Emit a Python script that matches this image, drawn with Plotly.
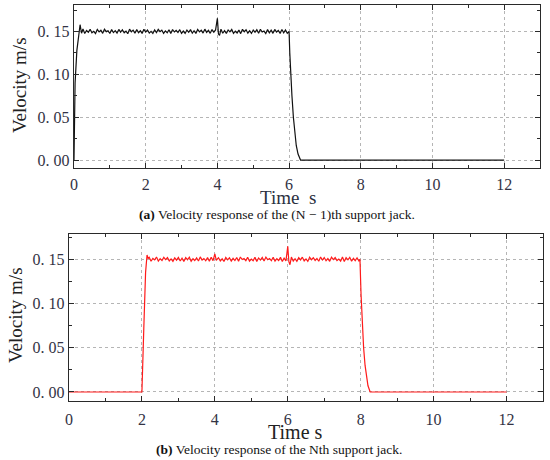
import plotly.graph_objects as go

# (a) (N-1)th support jack
t_a = [0.00, 0.03, 0.08, 0.17, 0.21,
       0.25, 0.30, 0.35, 0.40, 0.45, 0.50, 0.55, 0.60, 0.65, 0.70,
       0.75, 0.80, 0.85, 0.90, 0.95, 1.00, 1.05, 1.10, 1.15, 1.20,
       1.25, 1.30, 1.35, 1.40, 1.45, 1.50, 1.55, 1.60, 1.65, 1.70,
       1.75, 1.80, 1.85, 1.90, 1.95, 2.00, 2.05, 2.10, 2.15, 2.20,
       2.25, 2.30, 2.35, 2.40, 2.45, 2.50, 2.55, 2.60, 2.65, 2.70,
       2.75, 2.80, 2.85, 2.90, 2.95, 3.00, 3.05, 3.10, 3.15, 3.20,
       3.25, 3.30, 3.35, 3.40, 3.45, 3.50, 3.55, 3.60, 3.65, 3.70,
       3.75, 3.80, 3.85, 3.90, 3.95,
       4.00, 4.03, 4.06,
       4.10, 4.15, 4.20, 4.25, 4.30, 4.35, 4.40, 4.45, 4.50, 4.55,
       4.60, 4.65, 4.70, 4.75, 4.80, 4.85, 4.90, 4.95, 5.00, 5.05,
       5.10, 5.15, 5.20, 5.25, 5.30, 5.35, 5.40, 5.45, 5.50, 5.55,
       5.60, 5.65, 5.70, 5.75, 5.80, 5.85, 5.90, 5.95,
       6.00, 6.02, 6.04, 6.08, 6.12, 6.16, 6.20, 6.25, 6.32, 12.00]
v_a = [0.000, 0.090, 0.128, 0.158, 0.148,
       0.1530, 0.1478, 0.1512, 0.1492, 0.1526, 0.1485, 0.1503, 0.1476, 0.1524, 0.1496,
       0.1515, 0.1479, 0.1527, 0.1499, 0.1508, 0.1477, 0.1523, 0.1488, 0.1511, 0.1481,
       0.1525, 0.1493, 0.1521, 0.1486, 0.1505, 0.1475, 0.1528, 0.1497, 0.1516, 0.1480,
       0.1524, 0.1487, 0.1509, 0.1478, 0.1526, 0.1494, 0.1518, 0.1482, 0.1502, 0.1477,
       0.1520, 0.1489, 0.1525, 0.1498, 0.1517, 0.1479, 0.1507, 0.1485, 0.1521, 0.1476,
       0.1524, 0.1495, 0.1513, 0.1488, 0.1522, 0.1480, 0.1506, 0.1478, 0.1518, 0.1491,
       0.1523, 0.1481, 0.1510, 0.1477, 0.1525, 0.1497, 0.1517, 0.1482, 0.1528, 0.1490,
       0.1514, 0.1479, 0.1524, 0.1493, 0.1519,
       0.1655, 0.1470, 0.1455,
       0.1528, 0.1480, 0.1511, 0.1477, 0.1519, 0.1496, 0.1525, 0.1479, 0.1504, 0.1483,
       0.1517, 0.1476, 0.1526, 0.1498, 0.1520, 0.1481, 0.1509, 0.1478, 0.1518, 0.1492,
       0.1522, 0.1480, 0.1527, 0.1495, 0.1506, 0.1477, 0.1523, 0.1486, 0.1516, 0.1479,
       0.1525, 0.1494, 0.1512, 0.1478, 0.1524, 0.1485, 0.1518, 0.1481,
       0.1500, 0.125, 0.100, 0.075, 0.050, 0.030, 0.017, 0.007, 0.000, 0.000]

# (b) Nth support jack
t_b = [0.00, 2.00, 2.05, 2.10, 2.14, 2.17,
       2.20, 2.25, 2.30, 2.35, 2.40, 2.45, 2.50, 2.55, 2.60, 2.65,
       2.70, 2.75, 2.80, 2.85, 2.90, 2.95, 3.00, 3.05, 3.10, 3.15,
       3.20, 3.25, 3.30, 3.35, 3.40, 3.45, 3.50, 3.55, 3.60, 3.65,
       3.70, 3.75, 3.80, 3.85, 3.90, 3.95,
       4.00, 4.04,
       4.10, 4.15, 4.20, 4.25, 4.30, 4.35, 4.40, 4.45, 4.50, 4.55,
       4.60, 4.65, 4.70, 4.75, 4.80, 4.85, 4.90, 4.95, 5.00, 5.05,
       5.10, 5.15, 5.20, 5.25, 5.30, 5.35, 5.40, 5.45, 5.50, 5.55,
       5.60, 5.65, 5.70, 5.75, 5.80, 5.85, 5.90, 5.95,
       6.00, 6.03, 6.06,
       6.10, 6.15, 6.20, 6.25, 6.30, 6.35, 6.40, 6.45, 6.50, 6.55,
       6.60, 6.65, 6.70, 6.75, 6.80, 6.85, 6.90, 6.95, 7.00, 7.05,
       7.10, 7.15, 7.20, 7.25, 7.30, 7.35, 7.40, 7.45, 7.50, 7.55,
       7.60, 7.65, 7.70, 7.75, 7.80, 7.85, 7.90, 7.95,
       7.98, 8.01, 8.04, 8.08, 8.12, 8.16, 8.20, 8.26, 12.00]
v_b = [0.000, 0.000, 0.070, 0.135, 0.155, 0.151,
       0.1524, 0.1479, 0.1511, 0.1494, 0.1527, 0.1480, 0.1508, 0.1486, 0.1523, 0.1497,
       0.1520, 0.1483, 0.1505, 0.1478, 0.1517, 0.1491, 0.1522, 0.1481, 0.1513, 0.1476,
       0.1519, 0.1496, 0.1524, 0.1479, 0.1507, 0.1487, 0.1518, 0.1482, 0.1528, 0.1493,
       0.1510, 0.1484, 0.1520, 0.1478, 0.1525, 0.1486,
       0.1562, 0.1490,
       0.1519, 0.1481, 0.1506, 0.1477, 0.1522, 0.1495, 0.1518, 0.1480, 0.1512, 0.1487,
       0.1520, 0.1478, 0.1527, 0.1498, 0.1509, 0.1486, 0.1523, 0.1479, 0.1504, 0.1484,
       0.1525, 0.1476, 0.1516, 0.1492, 0.1522, 0.1481, 0.1526, 0.1497, 0.1510, 0.1485,
       0.1524, 0.1480, 0.1507, 0.1487, 0.1523, 0.1477, 0.1514, 0.1483,
       0.1648, 0.1475, 0.1440,
       0.1526, 0.1480, 0.1508, 0.1478, 0.1519, 0.1494, 0.1525, 0.1482, 0.1505, 0.1477,
       0.1524, 0.1496, 0.1518, 0.1488, 0.1511, 0.1479, 0.1527, 0.1493, 0.1521, 0.1485,
       0.1509, 0.1478, 0.1525, 0.1497, 0.1520, 0.1487, 0.1503, 0.1480, 0.1526, 0.1476,
       0.1519, 0.1495, 0.1523, 0.1479, 0.1512, 0.1486, 0.1518, 0.1482,
       0.1500, 0.110, 0.080, 0.050, 0.030, 0.016, 0.007, 0.000, 0.000]

x_ticks = [0, 2, 4, 6, 8, 10, 12]
y_ticks = [0.0, 0.05, 0.10, 0.15]
y_labels = ["0. 00", "0. 05", "0. 10", "0. 15"]

captions = ["<b>(a)</b> Velocity response of the (N − 1)th support jack.",
            "<b>(b)</b> Velocity response of the Nth support jack."]

W, H = 550, 460
serif = "Liberation Serif, Times New Roman, serif"

fig = go.Figure()
fig.add_trace(go.Scatter(x=t_a, y=v_a, mode="lines", line=dict(color="#111111", width=1.2),
                         xaxis="x", yaxis="y", showlegend=False))
fig.add_trace(go.Scatter(x=t_b, y=v_b, mode="lines", line=dict(color="#ff1a1a", width=1.2),
                         xaxis="x2", yaxis="y2", showlegend=False))

def xax(dom, anchor, standoff):
    return dict(domain=dom, anchor=anchor, range=[0, 13], tickvals=x_ticks, automargin=False,
                showline=True, linecolor="#2a2a2a", linewidth=1.4, mirror="allticks",
                ticks="inside", ticklen=5, tickcolor="#2a2a2a", ticklabelstandoff=standoff,
                minor=dict(dtick=1, tick0=0, ticks="inside", ticklen=3, tickcolor="#2a2a2a", showgrid=False),
                showgrid=True, gridcolor="#b5b5b5", griddash="dot", gridwidth=1,
                zeroline=False, tickfont=dict(family=serif, size=16, color="#333344"))

def yax(dom, anchor, rng):
    return dict(domain=dom, anchor=anchor, range=rng, tickvals=y_ticks, ticktext=y_labels,
                automargin=False,
                showline=True, linecolor="#2a2a2a", linewidth=1.4, mirror="allticks",
                ticks="inside", ticklen=5, tickcolor="#2a2a2a",
                minor=dict(dtick=0.025, tick0=0, ticks="inside", ticklen=3, tickcolor="#2a2a2a", showgrid=False),
                showgrid=True, gridcolor="#b5b5b5", griddash="dot", gridwidth=1,
                zeroline=False, tickfont=dict(family=serif, size=16, color="#333344"))

fig.update_layout(
    width=W, height=H, margin=dict(l=0, r=0, t=0, b=0),
    paper_bgcolor="white", plot_bgcolor="white",
    xaxis=xax([74 / W, 540 / W], "y", 2),
    yaxis=yax([1 - 168 / H, 1 - 5 / H], "x", [-0.0093, 0.181]),
    xaxis2=xax([69 / W, 543 / W], "y2", 4),
    yaxis2=yax([1 - 401 / H, 1 - 234 / H], "x2", [-0.0102, 0.1787]),
)

def note(text, px, py, size, color="#222", angle=0):
    fig.add_annotation(text=text, x=px / W, y=1 - py / H, xref="paper", yref="paper",
                       xanchor="center", yanchor="middle", textangle=angle, showarrow=False,
                       font=dict(family=serif, size=size, color=color))

# axis titles and captions
note("Velocity m/s", 20, 85, 19, angle=-90)
note("Velocity m/s", 15, 315, 19, angle=-90)
note("Time  s", 288, 197, 19, color="#2b3040")
note("Time s", 295, 432, 20)
note(captions[0], 277, 214, 13.5, color="#111")
note(captions[1], 279, 449, 13.5, color="#111")

# page has a default 8px body margin; drop it so the figure sits at the corner
fig.write_html("out.html", config={"displayModeBar": False},
               post_script="document.body.style.margin='0px';")
